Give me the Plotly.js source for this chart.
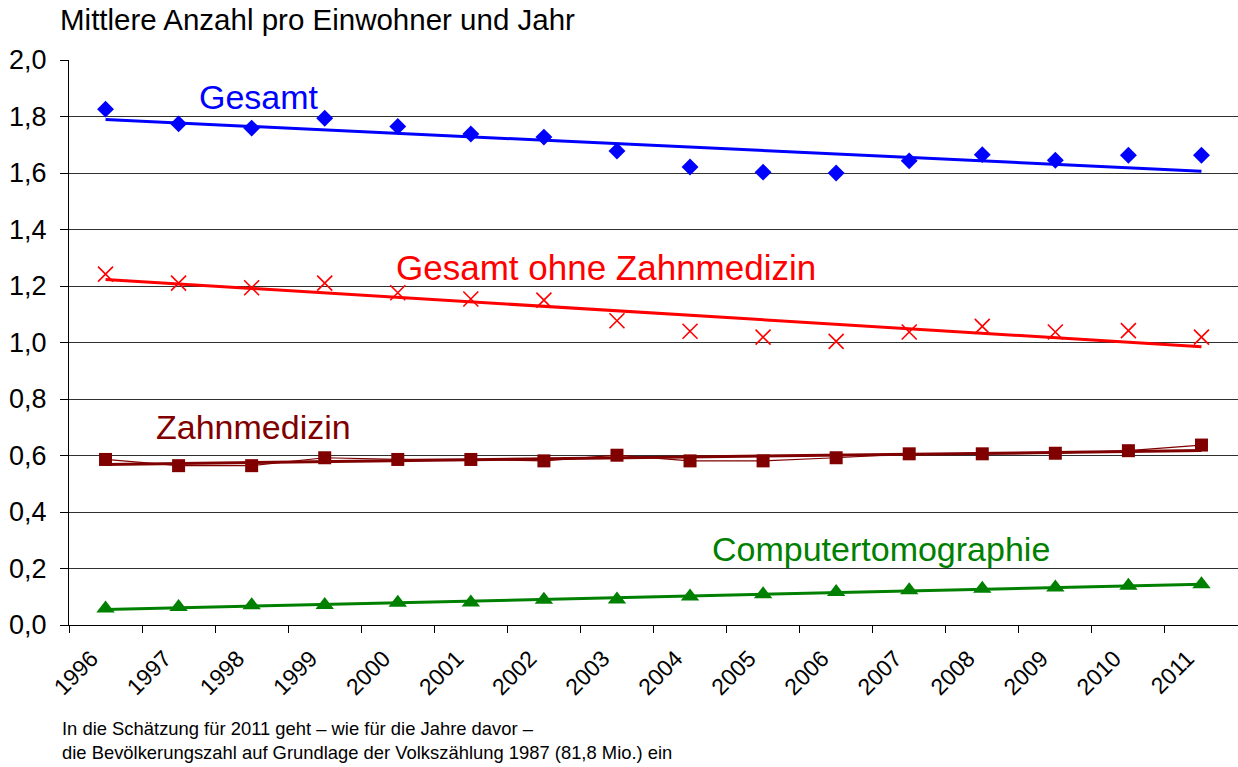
<!DOCTYPE html>
<html>
<head>
<meta charset="utf-8">
<script src="https://cdn.plot.ly/plotly-3.0.1.min.js"></script>
<style>html,body{margin:0;padding:0;background:#fff;}#chart{width:1238px;height:767px;}</style>
</head>
<body>
<div id="chart"></div>
<script>
const years = ['1996','1997','1998','1999','2000','2001','2002','2003','2004','2005','2006','2007','2008','2009','2010','2011'];
const gesamt = [1.826,1.774,1.759,1.794,1.765,1.738,1.727,1.678,1.621,1.603,1.600,1.643,1.665,1.645,1.663,1.663];
const ohneZahn = [1.242,1.210,1.194,1.210,1.176,1.154,1.150,1.077,1.040,1.019,1.004,1.037,1.057,1.037,1.042,1.019];
const zahn = [0.586,0.564,0.564,0.592,0.586,0.586,0.581,0.601,0.581,0.581,0.592,0.606,0.606,0.608,0.617,0.637];
const ct = [0.058,0.064,0.070,0.071,0.079,0.080,0.089,0.090,0.101,0.109,0.117,0.123,0.128,0.133,0.139,0.144];

function trend(vals){
  const n = vals.length;
  let sx=0, sy=0, sxx=0, sxy=0;
  for(let i=0;i<n;i++){ sx+=i; sy+=vals[i]; sxx+=i*i; sxy+=i*vals[i]; }
  const b = (n*sxy - sx*sy)/(n*sxx - sx*sx);
  const a = (sy - b*sx)/n;
  return vals.map((v,i)=>a+b*i);
}

const blue='#0000ff', red='#ff0000', dred='#800000', green='#008000';
const traces = [
  {x:years, y:trend(gesamt), mode:'lines', line:{color:blue,width:3}, hoverinfo:'skip'},
  {x:years, y:gesamt, mode:'markers', marker:{symbol:'diamond', size:13, color:blue}},
  {x:years, y:trend(ohneZahn), mode:'lines', line:{color:red,width:3}, hoverinfo:'skip'},
  {x:years, y:ohneZahn, mode:'markers', marker:{symbol:'x-thin-open', size:15, color:red, line:{color:red,width:1.6}}},
  {x:years, y:zahn, mode:'lines', line:{color:dred,width:1.2}},
  {x:years, y:trend(zahn), mode:'lines', line:{color:dred,width:3}, hoverinfo:'skip'},
  {x:years, y:zahn, mode:'markers', marker:{symbol:'square', size:13, color:dred}},
  {x:years, y:trend(ct), mode:'lines', line:{color:green,width:3}, hoverinfo:'skip'},
  {x:years, y:ct, mode:'markers', marker:{symbol:'triangle-up', size:16, color:green}}
];

const F = 'Arial, "Liberation Sans", sans-serif';
const layout = {
  width:1238, height:767,
  margin:{l:69, r:0, t:60, b:142},
  paper_bgcolor:'#fff', plot_bgcolor:'#fff',
  showlegend:false,
  separators:',.',
  font:{family:F, color:'#000'},
  title:{text:'Mittlere Anzahl pro Einwohner und Jahr', font:{family:F, size:29.5, color:'#000'},
         x:60/1238, xanchor:'left', xref:'container', y:1-20/767, yanchor:'middle', yref:'container'},
  xaxis:{type:'category', range:[-0.5,15.5], tickson:'boundaries', ticks:'outside', ticklen:7, tickcolor:'#000',
         showline:true, linecolor:'#000', linewidth:1, showgrid:false, tickangle:-45,
         ticklabelshift:-14, ticklabelstandoff:10,
         tickfont:{family:F, size:23, color:'#000'}, fixedrange:true},
  yaxis:{range:[0,2], dtick:0.2, tickformat:'.1f', ticks:'outside', ticklen:8, tickcolor:'#000',
         showline:true, linecolor:'#000', linewidth:1, showgrid:true, gridcolor:'#303030', gridwidth:1,
         ticklabelstandoff:8,
         zeroline:false, tickfont:{family:F, size:27, color:'#000'}, fixedrange:true},
  annotations:[
    {x:2.1, y:1.87, xref:'x', yref:'y', text:'Gesamt', showarrow:false, xanchor:'center', yanchor:'middle', font:{family:F,size:34,color:blue}},
    {x:6.85, y:1.264, xref:'x', yref:'y', text:'Gesamt ohne Zahnmedizin', showarrow:false, xanchor:'center', yanchor:'middle', font:{family:F,size:35,color:red}},
    {x:2.02, y:0.70, xref:'x', yref:'y', text:'Zahnmedizin', showarrow:false, xanchor:'center', yanchor:'middle', font:{family:F,size:34,color:dred}},
    {x:10.62, y:0.269, xref:'x', yref:'y', text:'Computertomographie', showarrow:false, xanchor:'center', yanchor:'middle', font:{family:F,size:34,color:green}},
    {x:60/1238, y:1-728/767, xref:'paper', yref:'paper', text:'In die Schätzung für 2011 geht – wie für die Jahre davor –', showarrow:false, xanchor:'left', yanchor:'middle', font:{family:F,size:18.4,color:'#000'}},
    {x:60/1238, y:1-752/767, xref:'paper', yref:'paper', text:'die Bevölkerungszahl auf Grundlage der Volkszählung 1987 (81,8 Mio.) ein', showarrow:false, xanchor:'left', yanchor:'middle', font:{family:F,size:18.4,color:'#000'}}
  ]
};
// footnote positions given in page fractions: convert to plot paper coordinates
layout.annotations.slice(4).forEach(a=>{
  const px = a.x*1238, py = (1-a.y)*767;
  a.x = (px-69)/1169; a.y = (625-py)/565;
});
Plotly.newPlot('chart', traces, layout, {displayModeBar:false, staticPlot:true});
</script>
</body>
</html>
